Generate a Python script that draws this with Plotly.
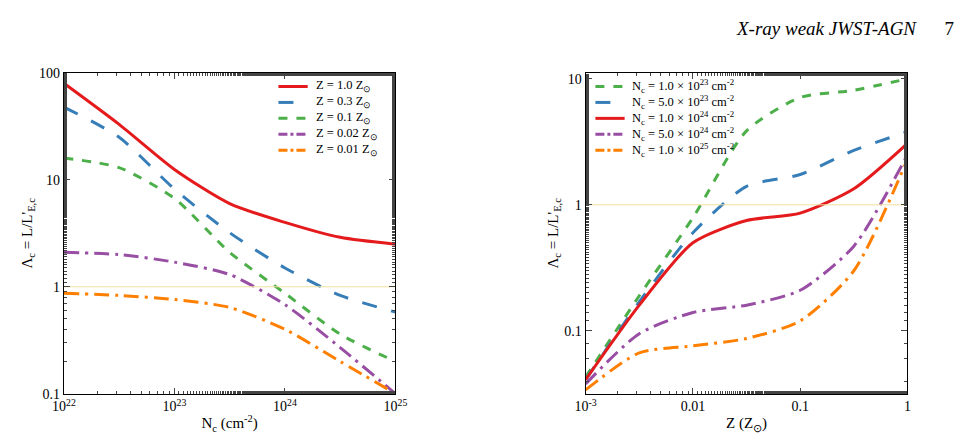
import plotly.graph_objects as go

# Left panel: Lambda_c vs N_c for various Z
nc_left = [1e22, 10**22.5, 1e23, 10**23.5, 1e24, 10**24.5, 1e25]
left_names = ["Z = 1.0 Z<sub>⊙</sub>", "Z = 0.3 Z<sub>⊙</sub>", "Z = 0.1 Z<sub>⊙</sub>",
              "Z = 0.02 Z<sub>⊙</sub>", "Z = 0.01 Z<sub>⊙</sub>"]
left_vals = [
    [80, 33, 12.5, 6.0, 4.0, 2.9, 2.5],
    [48, 25, 8.2, 3.2, 1.5, 0.83, 0.58],
    [16, 13, 6.7, 2.1, 0.87, 0.36, 0.2],
    [2.1, 2.0, 1.7, 1.3, 0.68, 0.27, 0.1],
    [0.87, 0.83, 0.76, 0.64, 0.40, 0.20, 0.1],
]
# Right panel: Lambda_c vs Z for various N_c
z_right = [1e-3, 10**-2.5, 1e-2, 10**-1.5, 1e-1, 10**-0.5, 1.0]
right_names = ["N<sub>c</sub> = 1.0 × 10<sup>23</sup> cm<sup>-2</sup>",
               "N<sub>c</sub> = 5.0 × 10<sup>23</sup> cm<sup>-2</sup>",
               "N<sub>c</sub> = 1.0 × 10<sup>24</sup> cm<sup>-2</sup>",
               "N<sub>c</sub> = 5.0 × 10<sup>24</sup> cm<sup>-2</sup>",
               "N<sub>c</sub> = 1.0 × 10<sup>25</sup> cm<sup>-2</sup>"]
right_vals = [
    [0.043, 0.19, 0.79, 3.86, 7.1, 8.1, 10.0],
    [0.041, 0.17, 0.60, 1.40, 1.74, 2.7, 3.8],
    [0.041, 0.16, 0.50, 0.75, 0.86, 1.34, 3.07],
    [0.038, 0.095, 0.14, 0.16, 0.21, 0.47, 2.5],
    [0.034, 0.067, 0.076, 0.087, 0.12, 0.30, 2.3],
]
left_colors = ["#e41a1c", "#377eb8", "#4daf4a", "#984ea3", "#ff7f00"]
left_dash = ["solid", "longdash", "dash", "longdashdot", "longdashdot"]
right_colors = ["#4daf4a", "#377eb8", "#e41a1c", "#984ea3", "#ff7f00"]
right_dash = ["dash", "longdash", "solid", "longdashdot", "longdashdot"]

FONT = "Liberation Serif"
fig = go.Figure()
for n, v, c, d in zip(left_names, left_vals, left_colors, left_dash):
    fig.add_trace(go.Scatter(x=nc_left, y=v, mode="lines", name=n, xaxis="x", yaxis="y",
                             line=dict(color=c, dash=d, width=3, shape="spline", smoothing=0.7), showlegend=False))
for n, v, c, d in zip(right_names, right_vals, right_colors, right_dash):
    fig.add_trace(go.Scatter(x=z_right, y=v, mode="lines", name=n, xaxis="x2", yaxis="y2",
                             line=dict(color=c, dash=d, width=3, shape="spline", smoothing=0.7), showlegend=False))
fig.add_trace(go.Scatter(x=[1e22, 1e25], y=[1, 1], mode="lines", xaxis="x", yaxis="y",
                         line=dict(color="#f0e0a0", width=1), showlegend=False))
fig.add_trace(go.Scatter(x=[1e-3, 1], y=[1, 1], mode="lines", xaxis="x2", yaxis="y2",
                         line=dict(color="#f0e0a0", width=1), showlegend=False))

W, H = 969, 441
def px(xp): return xp / W
def py(yp): return 1 - yp / H
ax = dict(type="log", showline=True, linecolor="black", mirror="ticks", ticks="inside",
          ticklen=6, showgrid=False, zeroline=False, tickfont=dict(size=14, family=FONT),
          minor=dict(ticks="inside", ticklen=3, showgrid=False))
fig.update_layout(
    width=W, height=H, paper_bgcolor="white", plot_bgcolor="white",
    margin=dict(l=0, r=0, t=0, b=0),
    font=dict(family=FONT, color="black"),
    xaxis=dict(ax, domain=[px(45), px(385)], range=[22, 25], anchor="y",
               tickvals=[1e22, 1e23, 1e24, 1e25],
               ticktext=["10<sup>22</sup>", "10<sup>23</sup>", "10<sup>24</sup>", "10<sup>25</sup>"],
               title=dict(text="N<sub>c</sub> (cm<sup>-2</sup>)", font=dict(size=15), standoff=4)),
    yaxis=dict(ax, domain=[py(392), py(60)], range=[-1, 2], anchor="x",
               tickvals=[0.1, 1, 10, 100], ticktext=["0.1", "1", "10", "100"],
               title=dict(text="Λ<sub>c</sub> = L/L'<sub>E,c</sub>", font=dict(size=15), standoff=2)),
    xaxis2=dict(ax, domain=[px(580), px(910)], range=[-3, 0], anchor="y2",
                tickvals=[0.001, 0.01, 0.1, 1],
                ticktext=["10<sup>-3</sup>", "0.01", "0.1", "1"],
                title=dict(text="Z (Z<sub>⊙</sub>)", font=dict(size=15), standoff=4)),
    yaxis2=dict(ax, domain=[py(392), py(60)], range=[-1.498, 1.046], anchor="x2",
                tickvals=[0.1, 1, 10], ticktext=["0.1", "1", "10"],
                title=dict(text="Λ<sub>c</sub> = L/L'<sub>E,c</sub>", font=dict(size=15), standoff=2)),
)
def legend(names, colors, dashes, x0, y0, step=16.5):
    for i, (n, c, d) in enumerate(zip(names, colors, dashes)):
        yy = y0 + i * step
        fig.add_shape(type="line", xref="paper", yref="paper", x0=px(x0), x1=px(x0 + 30),
                      y0=py(yy), y1=py(yy), line=dict(color=c, dash=d if d != "longdashdot" else "dashdot", width=3))
        fig.add_annotation(xref="paper", yref="paper", x=px(x0 + 36), y=py(yy), text=n,
                           showarrow=False, xanchor="left", yanchor="middle", font=dict(size=12.5))
legend(left_names, left_colors, left_dash, 265, 74)
legend(right_names, right_colors, right_dash, 590, 74)
fig.add_annotation(xref="paper", yref="paper", x=px(960), y=py(14), text="<i>X-ray weak JWST-AGN</i>      7",
                   showarrow=False, xanchor="right", yanchor="middle", font=dict(size=19))
fig.write_html("out.html")
